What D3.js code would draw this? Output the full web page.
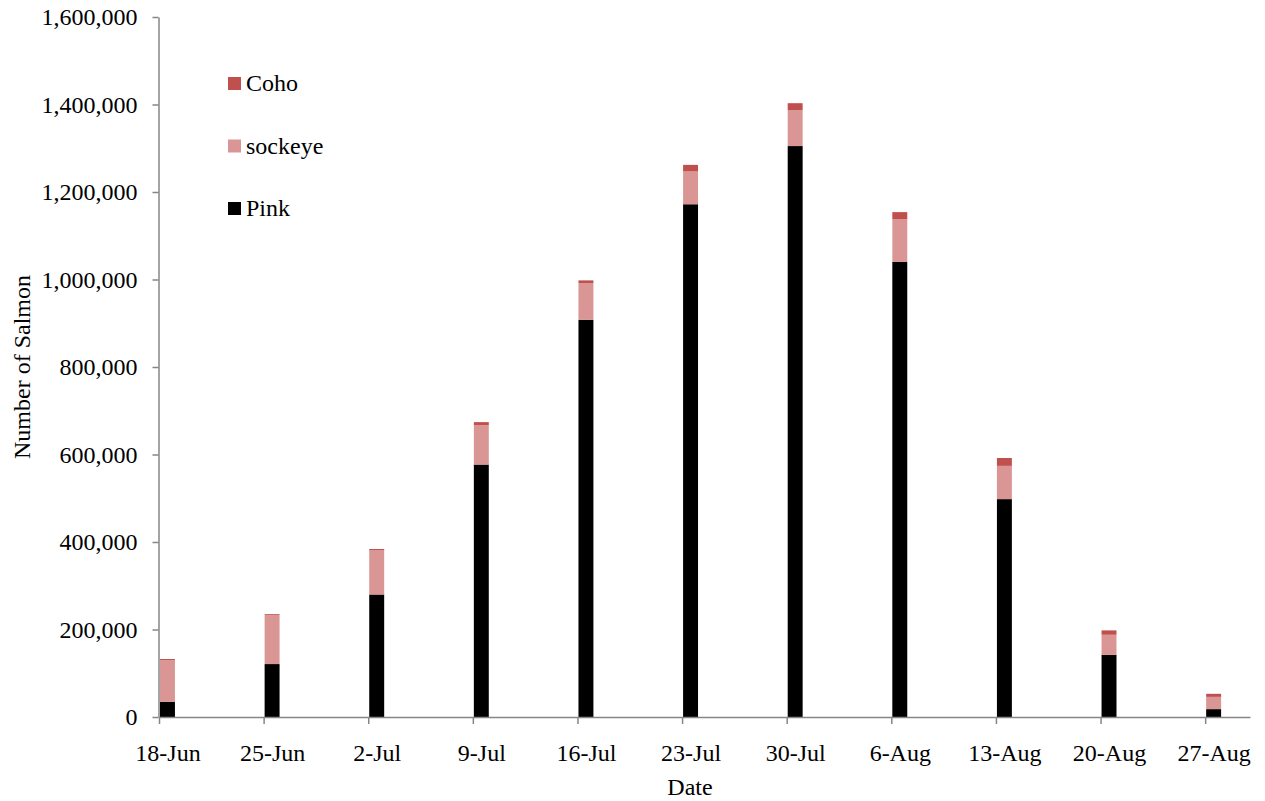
<!DOCTYPE html>
<html>
<head>
<meta charset="utf-8">
<script src="https://cdn.jsdelivr.net/npm/d3@7"></script>
<style>
  html, body { margin: 0; padding: 0; background: #fff; }
  svg { display: block; }
</style>
</head>
<body>
<svg id="chart" width="1265" height="801"></svg>
<script>
// Weekly salmon counts by species
const dates = ["2012-06-18", "2012-06-25", "2012-07-02", "2012-07-09", "2012-07-16", "2012-07-23",
               "2012-07-30", "2012-08-06", "2012-08-13", "2012-08-20", "2012-08-27"];
const dateLabels = ["18-Jun", "25-Jun", "2-Jul", "9-Jul", "16-Jul", "23-Jul",
                    "30-Jul", "6-Aug", "13-Aug", "20-Aug", "27-Aug"];
const pink    = [35000, 121000, 280000, 577000, 908000, 1172000, 1305000, 1040000, 498000, 142000, 18000];
const sockeye = [95000, 112000, 101000, 90000, 84000, 75000, 82000, 98000, 76000, 46000, 28000];
const coho    = [2500, 2000, 3000, 7000, 6000, 15000, 16000, 16000, 18000, 10000, 7000];
const yTicks  = [0, 200000, 400000, 600000, 800000, 1000000, 1200000, 1400000, 1600000];

const species = [
  { name: "Pink", values: pink, color: "#000000" },
  { name: "sockeye", values: sockeye, color: "#D99694" },
  { name: "Coho", values: coho, color: "#C0504D" }
];

const FONT = "'Liberation Serif', 'Times New Roman', serif";
const FONT_SIZE = "24px";

const parse = d3.timeParse("%Y-%m-%d");
const dayDates = dates.map(parse);

const svg = d3.select("#chart");
const plotLeft = 158.5, plotTop = 17, plotBottom = 717;

const x = d3.scaleTime()
  .domain([dayDates[0], d3.timeDay.offset(dayDates[dayDates.length - 1], 3)])
  .range([159, 1250]);
const y = d3.scaleLinear().domain([0, 1600000]).range([plotBottom, plotTop]);
const dayWidth = x(d3.timeDay.offset(dayDates[0], 1)) - x(dayDates[0]);

// Stacked series
const rows = dates.map((d, i) => {
  const r = { date: dayDates[i] };
  species.forEach(s => { r[s.name] = s.values[i]; });
  return r;
});
const stack = d3.stack().keys(species.map(s => s.name));
const layers = stack(rows);

svg.append("g").selectAll("g")
  .data(layers)
  .join("g")
  .attr("fill", (d, i) => species[i].color)
  .selectAll("rect")
  .data(d => d)
  .join("rect")
  .attr("x", d => x(d.data.date) + 1)
  .attr("width", d => x(d3.timeDay.offset(d.data.date, 1)) - x(d.data.date))
  .attr("y", d => y(d[1]))
  .attr("height", d => y(d[0]) - y(d[1]));

// Y axis
const yAxis = svg.append("g")
  .attr("transform", `translate(${plotLeft},0)`)
  .call(d3.axisLeft(y).tickValues(yTicks).tickFormat(d3.format(",")).tickSize(6).tickSizeOuter(0));
yAxis.select(".domain").attr("stroke", "#868686").attr("stroke-width", 1.5);
yAxis.selectAll(".tick line").attr("stroke", "#868686").attr("stroke-width", 1.5);
yAxis.selectAll(".tick text")
  .attr("x", -21)
  .style("font-size", FONT_SIZE)
  .style("font-family", FONT)
  .attr("fill", "#000");

// X axis: ticks mark the start of each day, labels sit under the day's bar
const xAxis = svg.append("g")
  .attr("transform", `translate(0,${plotBottom})`)
  .call(d3.axisBottom(x).tickValues(dayDates).tickFormat((d, i) => dateLabels[i]).tickSize(7).tickSizeOuter(0));
xAxis.select(".domain").attr("stroke", "#868686").attr("stroke-width", 1.5);
xAxis.selectAll(".tick line").attr("stroke", "#868686").attr("stroke-width", 1.5);
xAxis.selectAll(".tick text")
  .attr("x", dayWidth / 2 + 1)
  .attr("y", 27)
  .style("font-size", FONT_SIZE)
  .style("font-family", FONT)
  .attr("fill", "#000");

// Axis titles
svg.append("text")
  .attr("x", 690).attr("y", 795)
  .attr("text-anchor", "middle")
  .style("font-size", FONT_SIZE)
  .style("font-family", FONT)
  .text("Date");

svg.append("text")
  .attr("transform", "translate(30,367) rotate(-90)")
  .attr("text-anchor", "middle")
  .style("font-size", FONT_SIZE)
  .style("font-family", FONT)
  .text("Number of Salmon");

// Legend
const legendItems = species.slice().reverse();
const legend = svg.append("g").attr("transform", "translate(228,77)");
legendItems.forEach((s, i) => {
  const g = legend.append("g").attr("transform", `translate(0,${i * 62.5})`);
  g.append("rect").attr("width", 13).attr("height", 13).attr("fill", s.color);
  g.append("text").attr("x", 18).attr("y", 14)
    .style("font-size", FONT_SIZE)
    .style("font-family", FONT)
    .text(s.name);
});
</script>
</body>
</html>
